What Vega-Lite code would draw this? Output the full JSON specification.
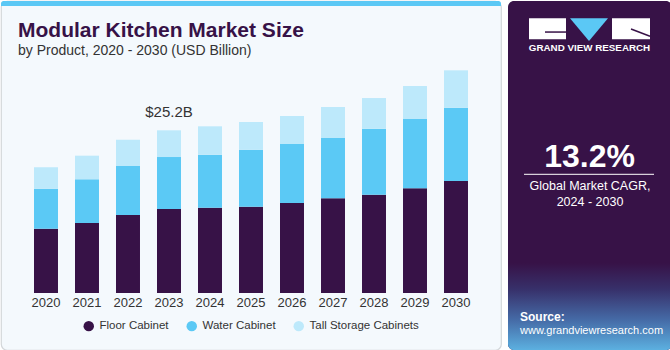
{
  "$schema": "https://vega.github.io/schema/vega-lite/v6.json",
  "background": "#ffffff",
  "padding": 0,
  "spacing": 6,
  "config": {"font": "Liberation Sans", "view": {"stroke": null}},
  "datasets": {
    "bars": [
      {"year": "2020", "product": "Floor Cabinet", "ord": 1, "value": 9.96},
      {"year": "2020", "product": "Water Cabinet", "ord": 2, "value": 6.2},
      {"year": "2020", "product": "Tall Storage Cabinets", "ord": 3, "value": 3.31},
      {"year": "2021", "product": "Floor Cabinet", "ord": 1, "value": 10.84},
      {"year": "2021", "product": "Water Cabinet", "ord": 2, "value": 6.77},
      {"year": "2021", "product": "Tall Storage Cabinets", "ord": 3, "value": 3.66},
      {"year": "2022", "product": "Floor Cabinet", "ord": 1, "value": 12.08},
      {"year": "2022", "product": "Water Cabinet", "ord": 2, "value": 7.59},
      {"year": "2022", "product": "Tall Storage Cabinets", "ord": 3, "value": 4.07},
      {"year": "2023", "product": "Floor Cabinet", "ord": 1, "value": 13.01},
      {"year": "2023", "product": "Water Cabinet", "ord": 2, "value": 8.05},
      {"year": "2023", "product": "Tall Storage Cabinets", "ord": 3, "value": 4.14},
      {"year": "2024", "product": "Floor Cabinet", "ord": 1, "value": 13.21},
      {"year": "2024", "product": "Water Cabinet", "ord": 2, "value": 8.21},
      {"year": "2024", "product": "Tall Storage Cabinets", "ord": 3, "value": 4.4},
      {"year": "2025", "product": "Floor Cabinet", "ord": 1, "value": 13.37},
      {"year": "2025", "product": "Water Cabinet", "ord": 2, "value": 8.83},
      {"year": "2025", "product": "Tall Storage Cabinets", "ord": 3, "value": 4.29},
      {"year": "2026", "product": "Floor Cabinet", "ord": 1, "value": 13.94},
      {"year": "2026", "product": "Water Cabinet", "ord": 2, "value": 9.14},
      {"year": "2026", "product": "Tall Storage Cabinets", "ord": 3, "value": 4.34},
      {"year": "2027", "product": "Floor Cabinet", "ord": 1, "value": 14.67},
      {"year": "2027", "product": "Water Cabinet", "ord": 2, "value": 9.34},
      {"year": "2027", "product": "Tall Storage Cabinets", "ord": 3, "value": 4.8},
      {"year": "2028", "product": "Floor Cabinet", "ord": 1, "value": 15.23},
      {"year": "2028", "product": "Water Cabinet", "ord": 2, "value": 10.22},
      {"year": "2028", "product": "Tall Storage Cabinets", "ord": 3, "value": 4.75},
      {"year": "2029", "product": "Floor Cabinet", "ord": 1, "value": 16.22},
      {"year": "2029", "product": "Water Cabinet", "ord": 2, "value": 10.73},
      {"year": "2029", "product": "Tall Storage Cabinets", "ord": 3, "value": 5.11},
      {"year": "2030", "product": "Floor Cabinet", "ord": 1, "value": 17.35},
      {"year": "2030", "product": "Water Cabinet", "ord": 2, "value": 11.35},
      {"year": "2030", "product": "Tall Storage Cabinets", "ord": 3, "value": 5.79}
    ],
    "years": [
      {"year": "2020"}, {"year": "2021"}, {"year": "2022"}, {"year": "2023"},
      {"year": "2024"}, {"year": "2025"}, {"year": "2026"}, {"year": "2027"},
      {"year": "2028"}, {"year": "2029"}, {"year": "2030"}
    ]
  },
  "hconcat": [
    {
      "width": 500,
      "height": 349,
      "view": {"fill": "#f4f9fd", "stroke": "#d3d7da", "strokeWidth": 1.2, "cornerRadius": 6},
      "title": {
        "text": "Modular Kitchen Market Size",
        "subtitle": "by Product, 2020 - 2030 (USD Billion)",
        "anchor": "start",
        "frame": "group",
        "offset": -57,
        "dx": 17,
        "fontSize": 21,
        "fontWeight": "bold",
        "color": "#371247",
        "subtitleFontSize": 14,
        "subtitleColor": "#333333",
        "subtitlePadding": 3
      },
      "layer": [
        {
          "data": {"values": [{}]},
          "mark": {"type": "rect", "color": "#5bc8f5", "cornerRadiusTopLeft": 4, "cornerRadiusTopRight": 4},
          "encoding": {
            "y": {"datum": 44.46, "type": "quantitative", "scale": {"domain": [-8.83, 45.23], "nice": false, "zero": false}, "axis": null},
            "y2": {"datum": 45.23}
          }
        },
        {
          "data": {"name": "bars"},
          "mark": {"type": "bar"},
          "encoding": {
            "x": {"field": "year", "type": "nominal", "axis": null, "scale": {"paddingInner": 0.415, "paddingOuter": 0.805}},
            "y": {"field": "value", "type": "quantitative", "stack": "zero", "axis": null, "scale": {"domain": [-8.83, 45.23], "nice": false, "zero": false}},
            "order": {"field": "ord", "type": "quantitative"},
            "color": {
              "field": "product",
              "type": "nominal",
              "scale": {"domain": ["Floor Cabinet", "Water Cabinet", "Tall Storage Cabinets"], "range": ["#371247", "#5bc9f5", "#bde9fb"]},
              "legend": {
                "orient": "none",
                "legendX": 82,
                "legendY": 319,
                "direction": "horizontal",
                "title": null,
                "symbolType": "circle",
                "symbolSize": 110,
                "symbolStrokeWidth": 0,
                "labelFontSize": 11.5,
                "labelColor": "#333333",
                "columnPadding": 17,
                "labelOffset": 5
              }
            }
          }
        },
        {
          "data": {"name": "years"},
          "mark": {"type": "text", "fontSize": 13, "color": "#333333", "baseline": "middle", "align": "center"},
          "encoding": {
            "x": {"field": "year", "type": "nominal", "axis": null},
            "y": {"datum": -1.55, "type": "quantitative", "scale": {"domain": [-8.83, 45.23], "nice": false, "zero": false}},
            "text": {"field": "year"}
          }
        },
        {
          "data": {"values": [{"year": "2023", "total": 25.2, "label": "$25.2B"}]},
          "mark": {"type": "text", "fontSize": 15, "color": "#333333", "baseline": "middle", "align": "center", "dy": -18},
          "encoding": {
            "x": {"field": "year", "type": "nominal", "axis": null},
            "y": {"field": "total", "type": "quantitative", "scale": {"domain": [-8.83, 45.23], "nice": false, "zero": false}},
            "text": {"field": "label"}
          }
        }
      ]
    },
    {
      "width": 164,
      "height": 349,
      "view": {"fill": "#371247", "stroke": null, "cornerRadius": 6},
      "layer": [
        {
          "data": {"values": [{}]},
          "mark": {
            "type": "rect",
            "cornerRadiusBottomLeft": 6,
            "cornerRadiusBottomRight": 6,
            "color": {"gradient": "linear", "x1": 0, "y1": 0, "x2": 0, "y2": 1, "stops": [
              {"offset": 0, "color": "#371247"},
              {"offset": 0.3, "color": "#37306a"},
              {"offset": 0.65, "color": "#456aa6"},
              {"offset": 1, "color": "#5cb0e0"}
            ]}
          },
          "encoding": {
            "x": {"datum": 0, "type": "quantitative", "scale": {"domain": [0, 164], "nice": false, "zero": false}, "axis": null},
            "x2": {"datum": 164},
            "y": {"datum": 262, "type": "quantitative", "scale": {"domain": [0, 349], "reverse": true, "nice": false, "zero": false}, "axis": null},
            "y2": {"datum": 349}
          }
        },
        {
          "data": {"values": [{}]},
          "mark": {"type": "rect", "color": "#ffffff"},
          "encoding": {
            "x": {"datum": 21, "type": "quantitative"},
            "x2": {"datum": 58},
            "y": {"datum": 17.3, "type": "quantitative"},
            "y2": {"datum": 38.3}
          }
        },
        {
          "data": {"values": [{}]},
          "mark": {"type": "rect", "color": "#371247"},
          "encoding": {
            "x": {"datum": 37, "type": "quantitative"},
            "x2": {"datum": 58},
            "y": {"datum": 30.3, "type": "quantitative"},
            "y2": {"datum": 31.8}
          }
        },
        {
          "data": {"values": [{}]},
          "mark": {"type": "rect", "color": "#ffffff"},
          "encoding": {
            "x": {"datum": 104, "type": "quantitative"},
            "x2": {"datum": 142},
            "y": {"datum": 17.3, "type": "quantitative"},
            "y2": {"datum": 38.3}
          }
        },
        {
          "data": {"values": [{}]},
          "mark": {"type": "rule", "color": "#371247", "strokeWidth": 1.5},
          "encoding": {
            "x": {"datum": 123, "type": "quantitative"},
            "x2": {"datum": 142},
            "y": {"datum": 28, "type": "quantitative"},
            "y2": {"datum": 35.3}
          }
        },
        {
          "data": {"values": [{}]},
          "mark": {"type": "point", "shape": "M-1,-0.6L1,-0.6L0,0.6Z", "filled": true, "color": "#5bc8f5", "opacity": 1, "size": 1444, "strokeWidth": 0},
          "encoding": {
            "x": {"datum": 81, "type": "quantitative"},
            "y": {"datum": 28.6, "type": "quantitative"}
          }
        },
        {
          "data": {"values": [{"t": "GRAND VIEW RESEARCH"}]},
          "mark": {"type": "text", "color": "#ffffff", "fontSize": 9.8, "fontWeight": "bold", "align": "center", "baseline": "middle"},
          "encoding": {
            "x": {"datum": 81.5, "type": "quantitative"},
            "y": {"datum": 47.3, "type": "quantitative"},
            "text": {"field": "t"}
          }
        },
        {
          "data": {"values": [{"t": "13.2%"}]},
          "mark": {"type": "text", "color": "#ffffff", "fontSize": 32, "fontWeight": "bold", "align": "center", "baseline": "middle"},
          "encoding": {
            "x": {"datum": 81.5, "type": "quantitative"},
            "y": {"datum": 156, "type": "quantitative"},
            "text": {"field": "t"}
          }
        },
        {
          "data": {"values": [{}]},
          "mark": {"type": "rule", "color": "#ffffff", "strokeWidth": 1},
          "encoding": {
            "x": {"datum": 16, "type": "quantitative"},
            "x2": {"datum": 146},
            "y": {"datum": 173.3, "type": "quantitative"}
          }
        },
        {
          "data": {"values": [{"t": "Global Market CAGR,"}]},
          "mark": {"type": "text", "color": "#ffffff", "fontSize": 12.5, "align": "center", "baseline": "middle"},
          "encoding": {
            "x": {"datum": 82, "type": "quantitative"},
            "y": {"datum": 185, "type": "quantitative"},
            "text": {"field": "t"}
          }
        },
        {
          "data": {"values": [{"t": "2024 - 2030"}]},
          "mark": {"type": "text", "color": "#ffffff", "fontSize": 12.5, "align": "center", "baseline": "middle"},
          "encoding": {
            "x": {"datum": 82, "type": "quantitative"},
            "y": {"datum": 201, "type": "quantitative"},
            "text": {"field": "t"}
          }
        },
        {
          "data": {"values": [{"t": "Source:"}]},
          "mark": {"type": "text", "color": "#ffffff", "fontSize": 12, "fontWeight": "bold", "align": "left", "baseline": "middle"},
          "encoding": {
            "x": {"datum": 12, "type": "quantitative"},
            "y": {"datum": 316, "type": "quantitative"},
            "text": {"field": "t"}
          }
        },
        {
          "data": {"values": [{"t": "www.grandviewresearch.com"}]},
          "mark": {"type": "text", "color": "#ffffff", "fontSize": 11, "align": "left", "baseline": "middle"},
          "encoding": {
            "x": {"datum": 12, "type": "quantitative"},
            "y": {"datum": 329.5, "type": "quantitative"},
            "text": {"field": "t"}
          }
        }
      ]
    }
  ]
}
